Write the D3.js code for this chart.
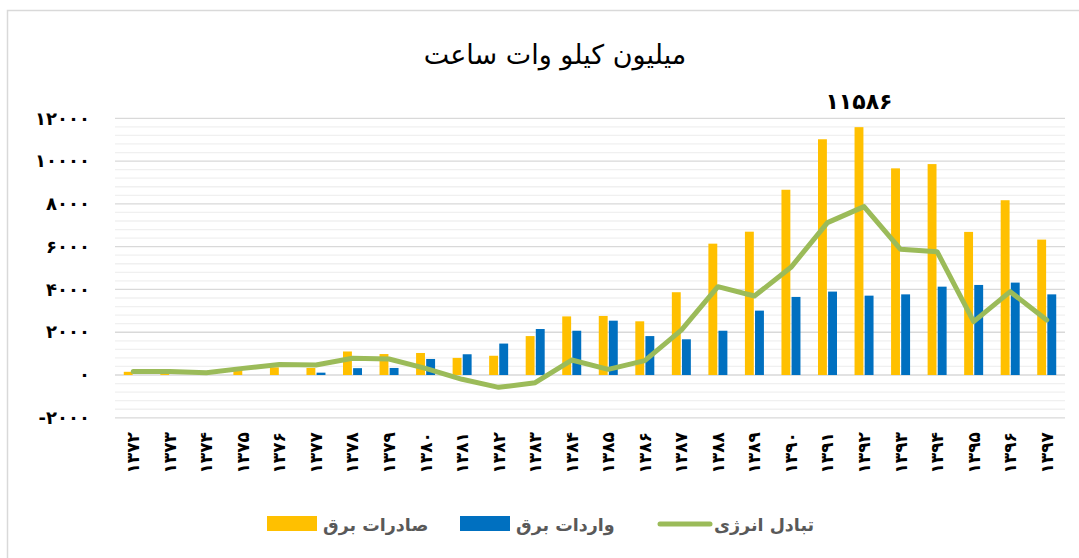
<!DOCTYPE html>
<html>
<head>
<meta charset="utf-8">
<script src="https://cdn.jsdelivr.net/npm/d3@7"></script>
<style>
  body { margin: 0; background: #fff; }
  text { font-family: "DejaVu Sans", sans-serif; }
</style>
</head>
<body>
<div id="chart"></div>
<script>
// data (million kWh)
var years = ["1372","1373","1374","1375","1376","1377","1378","1379","1380","1381","1382","1383","1384",
             "1385","1386","1387","1388","1389","1390","1391","1392","1393","1394","1395","1396","1397"];
var exportsVals = [150, 45, 0, 250, 360, 330, 1100, 980, 1030, 800, 900, 1820, 2740,
                   2760, 2510, 3870, 6140, 6700, 8660, 11020, 11586, 9660, 9860, 6690, 8170, 6330];
var importsVals = [0, 0, 0, 0, 0, 110, 320, 330, 750, 970, 1470, 2150, 2070,
                   2540, 1820, 1670, 2070, 3010, 3650, 3900, 3710, 3770, 4130, 4210, 4320, 3770];
var netVals = [170, 170, 110, 310, 490, 470, 780, 750, 310, -200, -576, -360, 700,
               265, 670, 2100, 4130, 3693, 5034, 7122, 7870, 5875, 5766, 2493, 3896, 2571];
var yTicks = [-2000, 0, 2000, 4000, 6000, 8000, 10000, 12000];
var seriesNames = ["صادرات برق", "واردات برق", "تبادل انرژی"];
var colors = ["#FFC000", "#0070C0", "#9BBB59"];

// western digits -> persian digits
function fa(s) {
  return String(s).replace(/[0-9]/g, function(d) { return "۰۱۲۳۴۵۶۷۸۹"[+d]; });
}

var svgWidth = 1079, svgHeight = 558;
var svg = d3.select("#chart").append("svg")
  .attr("width", svgWidth)
  .attr("height", svgHeight);

// outer frame (only top and left show)
svg.append("rect")
  .attr("x", 7.5).attr("y", 10.5)
  .attr("width", 1200).attr("height", 700)
  .attr("fill", "none")
  .attr("stroke", "#d9d9d9")
  .attr("stroke-width", 1.5);

var xScale = d3.scaleBand()
  .domain(years)
  .range([115, 1065]);

var yScale = d3.scaleLinear()
  .domain([-2000, 12000])
  .range([417.8, 118.3]);

// grid: minor every 400, major every 2000
var minor = d3.range(-2000, 12001, 400);
svg.append("g").selectAll("line")
  .data(minor.filter(d => d % 2000 !== 0))
  .enter().append("line")
  .attr("x1", 115).attr("x2", 1065)
  .attr("y1", d => yScale(d)).attr("y2", d => yScale(d))
  .attr("stroke", "#f0f0f0")
  .attr("stroke-width", 1.3);

svg.append("g").selectAll("line")
  .data(yTicks)
  .enter().append("line")
  .attr("x1", 115).attr("x2", 1065)
  .attr("y1", d => yScale(d)).attr("y2", d => yScale(d))
  .attr("stroke", "#d9d9d9")
  .attr("stroke-width", 1.3);

// y axis labels
var yAxis = d3.axisLeft(yScale).tickValues(yTicks).tickSize(0).tickPadding(0)
  .tickFormat(d => fa(d));
var yG = svg.append("g")
  .attr("transform", "translate(90,0)")
  .call(yAxis);
yG.select(".domain").remove();
yG.selectAll("text")
  .attr("font-size", 18)
  .attr("font-weight", "bold")
  .attr("letter-spacing", 5)
  .attr("fill", "#000")
  .style("font-family", "DejaVu Sans, sans-serif");

// x axis labels (rotated)
var xAxis = d3.axisBottom(xScale).tickSize(0).tickPadding(0).tickFormat(d => fa(d));
var xG = svg.append("g")
  .attr("transform", "translate(0,432)")
  .call(xAxis);
xG.select(".domain").remove();
xG.selectAll("text")
  .attr("transform", "rotate(-90)")
  .attr("text-anchor", "end")
  .attr("x", 0).attr("y", 0)
  .attr("dy", "0.35em")
  .attr("font-size", 17)
  .attr("font-weight", "bold")
  .attr("letter-spacing", 2)
  .attr("fill", "#000")
  .style("font-family", "DejaVu Sans, sans-serif");

// bars
var groupW = xScale.bandwidth() * 0.52;
var x1 = d3.scaleBand()
  .domain([0, 1])
  .range([(xScale.bandwidth() - groupW) / 2, (xScale.bandwidth() + groupW) / 2])
  .paddingInner(0.12);

[exportsVals, importsVals].forEach(function(vals, s) {
  svg.append("g").selectAll("rect")
    .data(vals)
    .enter().append("rect")
    .attr("x", (d, i) => xScale(years[i]) + x1(s))
    .attr("width", x1.bandwidth())
    .attr("y", d => yScale(Math.max(0, d)))
    .attr("height", d => Math.abs(yScale(d) - yScale(0)))
    .attr("fill", colors[s]);
});

// net exchange line
var line = d3.line()
  .x((d, i) => xScale(years[i]) + xScale.bandwidth() / 2)
  .y(d => yScale(d));

svg.append("path")
  .datum(netVals)
  .attr("d", line)
  .attr("fill", "none")
  .attr("stroke", colors[2])
  .attr("stroke-width", 5)
  .attr("stroke-linejoin", "round")
  .attr("stroke-linecap", "round");

// title
svg.append("text")
  .attr("x", 555).attr("y", 64)
  .attr("text-anchor", "middle")
  .attr("font-size", 27)
  .attr("fill", "#000")
  .text("میلیون کیلو وات ساعت");

// peak annotation
var peakIdx = exportsVals.indexOf(d3.max(exportsVals));
svg.append("text")
  .attr("x", xScale(years[peakIdx]) + x1(0) + x1.bandwidth() / 2)
  .attr("y", 109)
  .attr("text-anchor", "middle")
  .attr("font-size", 22)
  .attr("font-weight", "bold")
  .attr("fill", "#000")
  .text(fa(exportsVals[peakIdx]));

// legend
var legendItems = [
  {name: seriesNames[0], color: colors[0], x: 267, type: "rect"},
  {name: seriesNames[1], color: colors[1], x: 460, type: "rect"},
  {name: seriesNames[2], color: colors[2], x: 658, type: "line"}
];
var legend = svg.append("g");
legendItems.forEach(function(it) {
  if (it.type === "rect") {
    legend.append("rect")
      .attr("x", it.x).attr("y", 516)
      .attr("width", 50).attr("height", 15)
      .attr("fill", it.color);
  } else {
    legend.append("line")
      .attr("x1", it.x + 2).attr("x2", it.x + 52)
      .attr("y1", 524).attr("y2", 524)
      .attr("stroke", it.color)
      .attr("stroke-width", 5)
      .attr("stroke-linecap", "round");
  }
  legend.append("text")
    .attr("x", it.x + 56).attr("y", 531)
    .attr("text-anchor", "start")
    .attr("font-size", 17.5)
    .attr("font-weight", "bold")
    .attr("fill", "#595959")
    .text(it.name);
});
</script>
</body>
</html>
